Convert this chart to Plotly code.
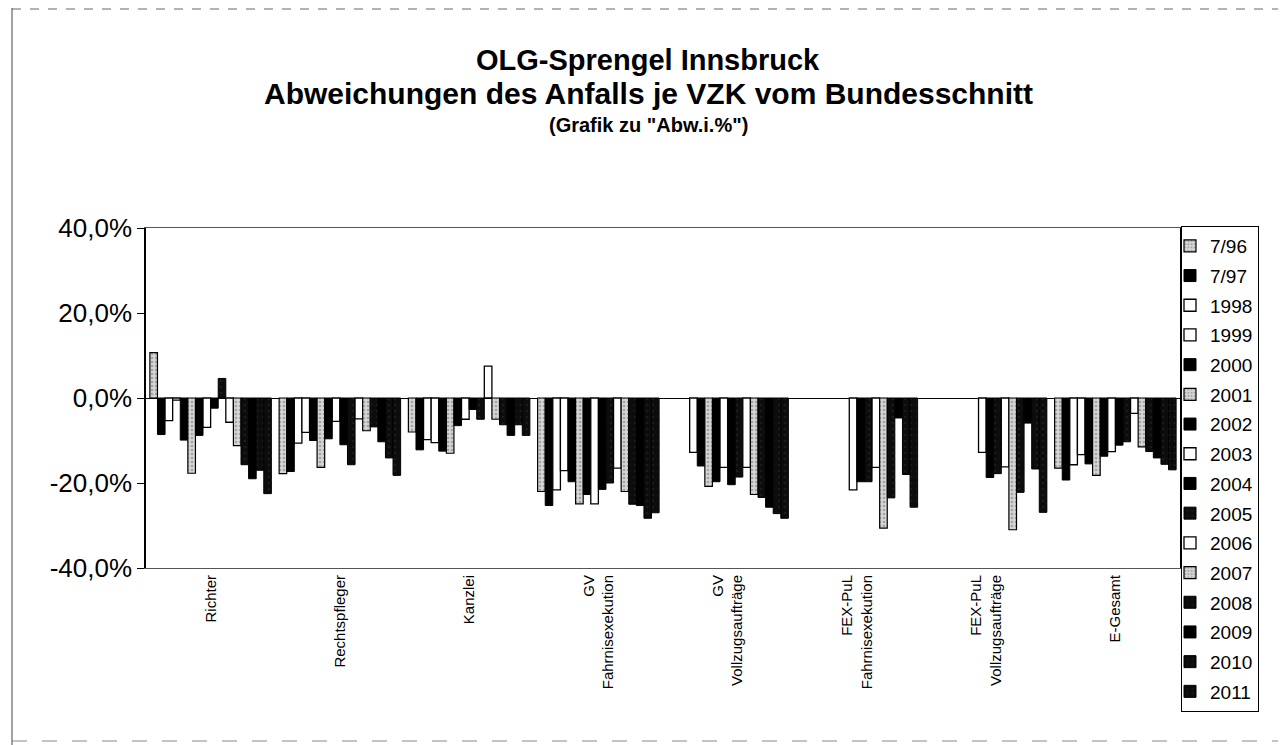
import plotly.graph_objects as go

categories = ["Richter", "Rechtspfleger", "Kanzlei", "GV<br>Fahrnisexekution",
              "GV<br>Vollzugsaufträge", "FEX-PuL<br>Fahrnisexekution",
              "FEX-PuL<br>Vollzugsaufträge", "E-Gesamt"]

series_names = ["7/96", "7/97", "1998", "1999", "2000", "2001", "2002", "2003",
                "2004", "2005", "2006", "2007", "2008", "2009", "2010", "2011"]

# values in percent, one list per series (order of categories above)
v_7_96 = [10.7, -17.8, -8.0, -22.0, None, None, None, -16.5]
v_7_97 = [-8.6, -17.3, -12.2, -25.3, None, None, None, -19.3]
v_1998 = [-5.3, -10.6, -9.8, -21.6, None, None, None, -15.7]
v_1999 = [-0.5, -8.1, -10.5, -17.1, -12.8, None, None, -13.3]
v_2000 = [-9.9, -10.0, -12.5, -19.7, -16.0, None, None, -15.5]
v_2001 = [-17.7, -16.3, -13.0, -24.9, -20.8, None, None, -18.2]
v_2002 = [-8.8, -9.6, -6.5, -22.7, -19.7, None, None, -13.7]
v_2003 = [-6.9, -5.5, -5.0, -24.9, -16.3, -21.6, -12.8, -12.6]
v_2004 = [-2.4, -11.0, -2.7, -21.5, -20.4, -19.7, -18.7, -11.1]
v_2005 = [4.6, -15.7, -5.0, -20.0, -18.6, -19.7, -17.8, -10.3]
v_2006 = [-5.7, -4.9, 7.5, -16.5, -16.3, -16.3, -16.2, -3.6]
v_2007 = [-11.2, -7.7, -5.0, -22.0, -22.7, -30.6, -31.0, -11.5]
v_2008 = [-15.7, -6.8, -6.3, -25.0, -23.4, -23.5, -22.2, -12.6]
v_2009 = [-19.0, -10.3, -8.8, -25.3, -25.7, -4.7, -5.9, -14.1]
v_2010 = [-17.0, -14.1, -6.3, -28.3, -27.2, -18.0, -16.7, -15.6]
v_2011 = [-22.5, -18.2, -8.8, -27.0, -28.3, -25.7, -26.9, -16.9]

series_values = [v_7_96, v_7_97, v_1998, v_1999, v_2000, v_2001, v_2002, v_2003,
                 v_2004, v_2005, v_2006, v_2007, v_2008, v_2009, v_2010, v_2011]

y_tick_vals = [-40, -20, 0, 20, 40]
y_tick_text = ["-40,0%", "-20,0%", "0,0%", "20,0%", "40,0%"]

# fill style per series: "grey" stippled, "black", "white", "dark"
styles = ["grey", "black", "white", "white", "black", "grey", "black", "white",
          "black", "dark", "white", "grey", "dark", "black", "dark", "dark"]

FONT = "Liberation Sans, Arial, sans-serif"

# layout geometry (pixels)
W, H = 1286, 745
L, R, T, B = 138, 114, 220, 185
PW, PH = W - L - R, H - T - B


def px(x):
    return (x - L) / PW


def py(y):
    return (H - B - y) / PH


fig = go.Figure()
for i, (name, vals) in enumerate(zip(series_names, series_values)):
    st = styles[i]
    if st == "grey":
        marker = dict(color="#d6d6d6",
                      pattern=dict(shape=".", fgcolor="#707070", size=4, solidity=0.35),
                      line=dict(color="#000000", width=1.2))
    elif st == "white":
        marker = dict(color="#ffffff", line=dict(color="#000000", width=1.3))
    elif st == "dark":
        marker = dict(color="#0c0c0c",
                      pattern=dict(shape=".", fgcolor="#2a2a2a", size=6, solidity=0.15),
                      line=dict(color="#000000", width=1))
    else:
        marker = dict(color="#000000", line=dict(color="#000000", width=1))
    fig.add_trace(go.Bar(x=categories, y=vals, name=name, marker=marker,
                         legendgroup=name))

fig.update_layout(
    width=W, height=H,
    paper_bgcolor="white", plot_bgcolor="white",
    barmode="group", bargap=0.06, bargroupgap=0,
    margin=dict(l=L, r=R, t=T, b=B, autoexpand=False),
    font=dict(family=FONT, color="#000000"),
    showlegend=True,
    legend=dict(x=px(1173), xanchor="left", y=py(218), yanchor="top",
                bordercolor="#000000", borderwidth=1, bgcolor="white",
                font=dict(size=19, family=FONT), traceorder="grouped",
                tracegroupgap=2, itemwidth=30, indentation=-12,
                entrywidth=110, maxheight=520),
    xaxis=dict(showline=True, linecolor="#555555", linewidth=1, mirror=True,
               tickangle=-90, tickfont=dict(size=15, family=FONT),
               ticks="", showgrid=False),
    yaxis=dict(range=[-40, 40], tickvals=y_tick_vals, ticktext=y_tick_text,
               tickfont=dict(size=26, family=FONT), ticks="outside", ticklen=7,
               tickcolor="#000000", showline=True, linecolor="#000000",
               linewidth=1.5, mirror=True, showgrid=False,
               zeroline=True, zerolinecolor="#000000", zerolinewidth=1.2),
)

# title lines
fig.add_annotation(text="<b>OLG-Sprengel Innsbruck</b>", xref="paper", yref="paper",
                   x=px(640), y=py(52), showarrow=False,
                   font=dict(size=29, family=FONT), xanchor="center", yanchor="middle")
fig.add_annotation(text="<b>Abweichungen des Anfalls je VZK vom Bundesschnitt</b>",
                   xref="paper", yref="paper", x=px(640), y=py(85),
                   showarrow=False, font=dict(size=30, family=FONT),
                   xanchor="center", yanchor="middle")
fig.add_annotation(text="<b>(Grafik zu \"Abw.i.%\")</b>", xref="paper", yref="paper",
                   x=px(640), y=py(117), showarrow=False,
                   font=dict(size=20, family=FONT), xanchor="center", yanchor="middle")

# scanned page frame
fig.add_shape(type="line", xref="paper", yref="paper",
              x0=px(4), x1=px(4), y0=py(0), y1=py(H),
              line=dict(color="#444444", width=1))
fig.add_shape(type="line", xref="paper", yref="paper",
              x0=px(4), x1=px(W), y0=py(1), y1=py(1),
              line=dict(color="#666666", width=1, dash="dash"))
fig.add_shape(type="line", xref="paper", yref="paper",
              x0=px(4), x1=px(W), y0=py(733), y1=py(733),
              line=dict(color="#888888", width=1, dash="longdash"))

fig.write_html("out.html")
